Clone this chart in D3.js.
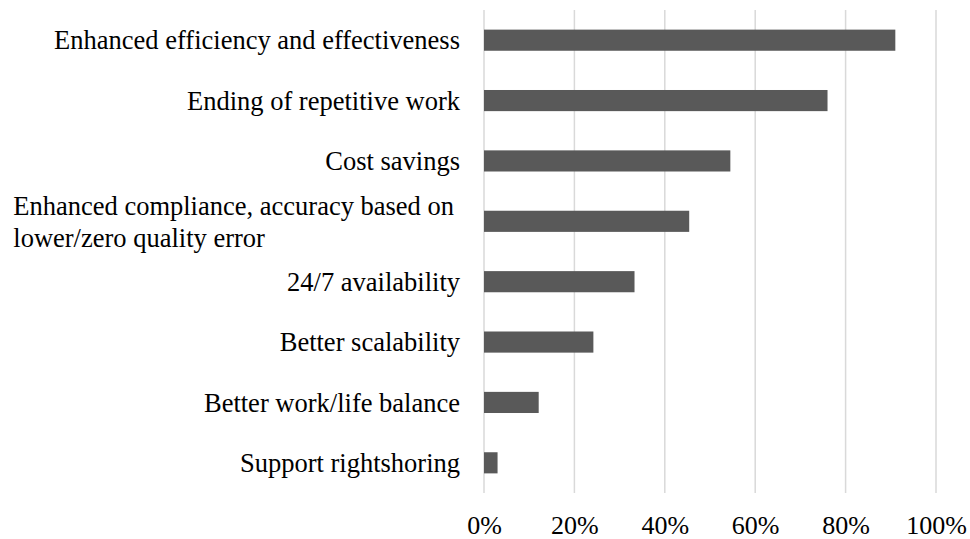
<!DOCTYPE html>
<html>
<head>
<meta charset="utf-8">
<script src="https://cdn.jsdelivr.net/npm/d3@7"></script>
<style>
  body { margin: 0; background: #fff; }
</style>
</head>
<body>
<div id="chart"></div>
<script>
// data
var categories = [
    "Enhanced efficiency and effectiveness",
    "Ending of repetitive work",
    "Cost savings",
    "Enhanced compliance, accuracy based on|lower/zero quality error",
    "24/7 availability",
    "Better scalability",
    "Better work/life balance",
    "Support rightshoring"
];
var values = [0.91, 0.76, 0.545, 0.454, 0.333, 0.242, 0.121, 0.03];
var tickValues = [0, 0.2, 0.4, 0.6, 0.8, 1.0];

var fontFam = "'Liberation Serif', 'Times New Roman', serif";
var width = 970, height = 539;
var margin = {top: 10, right: 34, bottom: 46, left: 484};

var svg = d3.select("#chart").append("svg")
    .attr("width", width)
    .attr("height", height);

var x = d3.scaleLinear()
    .domain([0, 1])
    .range([margin.left, width - margin.right]);

var y = d3.scaleBand()
    .domain(categories)
    .range([margin.top, height - margin.bottom])
    .paddingInner(0.65)
    .paddingOuter(0.325);

// grid lines
svg.append("g")
    .selectAll("line")
    .data(tickValues)
    .enter()
    .append("line")
    .attr("x1", d => x(d)).attr("x2", d => x(d))
    .attr("y1", margin.top).attr("y2", height - margin.bottom)
    .style("stroke", "#d9d9d9")
    .style("stroke-width", 1.5);

// bars
svg.append("g")
    .selectAll("rect")
    .data(values)
    .enter()
    .append("rect")
    .attr("x", x(0))
    .attr("y", (d, i) => y(categories[i]))
    .attr("width", d => x(d) - x(0))
    .attr("height", y.bandwidth())
    .style("fill", "#595959");

// x axis labels
var xAxis = d3.axisBottom(x)
    .tickValues(tickValues)
    .tickFormat(d3.format(".0%"))
    .tickSize(0)
    .tickPadding(0);

var ax = svg.append("g")
    .attr("transform", "translate(0," + (height - margin.bottom) + ")")
    .call(xAxis)
    .attr("font-family", fontFam)
    .attr("font-size", 26);
ax.select(".domain").remove();
ax.selectAll("text")
    .attr("dy", null)
    .attr("y", 41)
    .attr("fill", "#000");

// category labels (| marks a line break)
var labelRight = margin.left - 24;
var labels = svg.append("g")
    .attr("font-family", fontFam)
    .attr("font-size", 26.5)
    .attr("fill", "#000");
categories.forEach(function(c){
    var lines = c.split("|");
    var cy = y(c) + y.bandwidth() / 2;
    var t = labels.append("text");
    if (lines.length == 1) {
        t.attr("text-anchor", "end")
            .attr("x", labelRight)
            .attr("y", cy)
            .attr("dy", "0.35em")
            .text(c);
    } else {
        // wrapped label: lines left-aligned, block right edge near the label column
        var tmp = labels.append("text").text(lines[0]);
        var w = tmp.node().getComputedTextLength();
        tmp.remove();
        var lineH = 32;
        lines.forEach(function(l, i){
            t.append("tspan")
                .attr("x", labelRight - 6 - w)
                .attr("y", cy + (i - (lines.length - 1) / 2) * lineH)
                .attr("dy", "0.35em")
                .text(l);
        });
    }
});
</script>
</body>
</html>
